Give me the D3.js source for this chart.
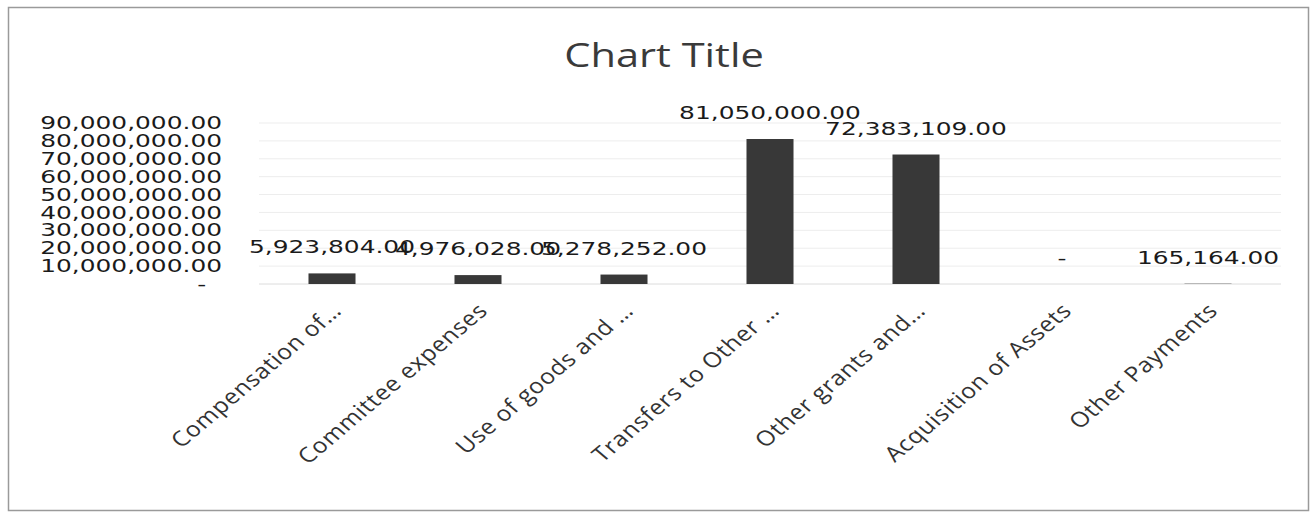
<!DOCTYPE html>
<html>
<head>
<meta charset="utf-8">
<script src="https://cdn.jsdelivr.net/npm/d3@7"></script>
<style>
  body { margin: 0; background: #fff; }
  svg  { display: block; }
</style>
</head>
<body>
<svg id="chart" width="1316" height="513"></svg>
<script>
// chart data
const title      = "Chart Title";
const categories = ["Compensation of…", "Committee expenses", "Use of goods and …", "Transfers to Other …",
                    "Other grants and…", "Acquisition of Assets", "Other Payments"];
const values     = [5923804, 4976028, 5278252, 81050000, 72383109, 0, 165164];
const yTicks     = [0, 10000000, 20000000, 30000000, 40000000, 50000000, 60000000, 70000000, 80000000, 90000000];

// the scanned chart is stretched sideways, so the numbers get the same squeeze
const stretch = 1.42;
const numFont = "'DejaVu Sans', Verdana, sans-serif";
const txtFont = "'Open Sans', Calibri, sans-serif";

const svg = d3.select("#chart");

const plot = {left: 259, right: 1281, top: 123, bottom: 284};

const x = d3.scaleBand()
  .domain(categories)
  .range([plot.left, plot.right])
  .paddingInner(0.678)
  .paddingOuter(0.339);

const y = d3.scaleLinear()
  .domain([0, d3.max(yTicks)])
  .range([plot.bottom, plot.top]);

const money = d3.format(",.2f");
const fmt   = v => v === 0 ? "-" : money(v);

// frame
svg.append("rect")
  .attr("x", 8.5).attr("y", 7.5)
  .attr("width", 1300).attr("height", 503)
  .attr("fill", "#fff")
  .attr("stroke", "#9a9a9a")
  .attr("stroke-width", 1.5);

// title
svg.append("text")
  .attr("transform", `translate(664,67) scale(1.3,1)`)
  .attr("text-anchor", "middle")
  .style("font-family", txtFont)
  .style("font-size", "32px")
  .style("fill", "#3a3a3a")
  .text(title);

// grid
svg.append("g").classed("grid", true)
  .selectAll("line")
  .data(yTicks)
  .join("line")
  .attr("x1", plot.left).attr("x2", plot.right)
  .attr("y1", d => y(d)).attr("y2", d => y(d))
  .attr("stroke", d => d === 0 ? "#dcdcdc" : "#ededed")
  .attr("stroke-width", 1);

// y axis, labels only
const yAxis = svg.append("g")
  .attr("transform", "translate(222,0)")
  .call(d3.axisLeft(y)
    .tickValues(yTicks)
    .tickSize(0)
    .tickPadding(0)
    .tickFormat(d => d === 0 ? "-\u00a0\u00a0" : money(d)));
yAxis.select(".domain").remove();
yAxis.selectAll("text")
  .attr("transform", `scale(${stretch},1)`)
  .style("font-family", numFont)
  .style("font-size", "17.5px")
  .style("fill", "#1a1a1a");

// bars
svg.append("g").classed("bars", true)
  .selectAll("rect")
  .data(values)
  .join("rect")
  .attr("x", (d, i) => x(categories[i]))
  .attr("y", d => y(d))
  .attr("width", x.bandwidth())
  .attr("height", d => y(0) - y(d))
  .attr("fill", "#383838");

// value labels
svg.append("g").classed("labels", true)
  .selectAll("text")
  .data(values)
  .join("text")
  .attr("transform", (d, i) =>
    `translate(${x(categories[i]) + x.bandwidth() / 2},${y(d) - 20}) scale(${stretch},1)`)
  .attr("text-anchor", "middle")
  .style("font-family", numFont)
  .style("font-size", "17.5px")
  .style("fill", "#1a1a1a")
  .text(fmt);

// category labels, 45 degrees before the sideways stretch
svg.append("g").classed("x-labels", true)
  .selectAll("text")
  .data(categories)
  .join("text")
  .attr("transform", d => `translate(${x(d) + x.bandwidth() / 2 + 11},312) scale(1.18,1) rotate(-45)`)
  .attr("text-anchor", "end")
  .style("font-family", txtFont)
  .style("font-size", "21px")
  .style("letter-spacing", "0.6px")
  .style("fill", "#333")
  .text(d => d);
</script>
</body>
</html>
